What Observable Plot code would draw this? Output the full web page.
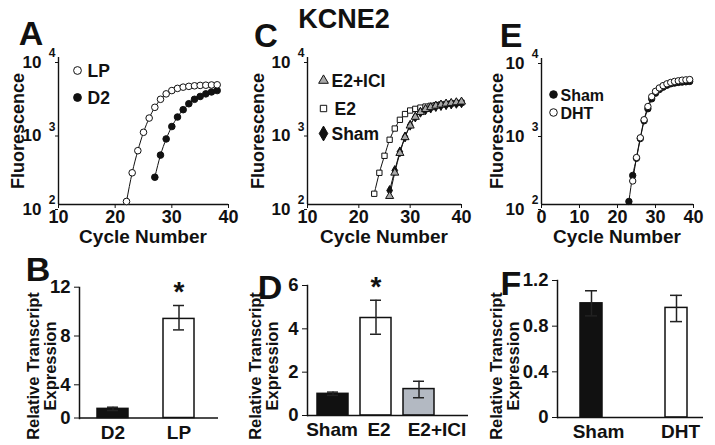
<!DOCTYPE html>
<html><head><meta charset="utf-8">
<script src="https://cdn.jsdelivr.net/npm/d3@7"></script>
<script src="https://cdn.jsdelivr.net/npm/@observablehq/plot@0.6"></script>
<style>
body{margin:0;background:#fff;}
#root{position:relative;width:715px;height:445px;overflow:hidden;font-family:"Liberation Sans",Arial,Helvetica,sans-serif;font-weight:bold;color:#111;}
#root svg{position:absolute;left:0;top:0;background:transparent;overflow:visible;}
.lbl{position:absolute;white-space:nowrap;font-weight:bold;transform:translate(-50%,-50%);line-height:1.05;}
.rot{transform:translate(-50%,-50%) rotate(-90deg);text-align:center;}
</style></head>
<body><div id="root"></div>
<script>
// ---------- DATA ----------
// Panel A: amplification curves
const lpCycles = [22,23,24,25,26,27,28,29,30,31,32,33,34,35,36,37,38];
const lpFluor  = [110,270,540,960,1500,2100,2700,3200,3550,3800,3950,4050,4120,4170,4200,4230,4250];
const d2Cycles = [27,28,29,30,31,32,33,34,35,36,37,38];
const d2Fluor  = [235,470,780,1150,1550,1950,2350,2700,2950,3200,3400,3550];
// Panel C
const e2Cycles = [23,24,25,26,27,28,29,30,31,32,33,34,35,36,37,38,39,40];
const e2Fluor  = [140,270,460,760,1080,1420,1700,1900,2000,2080,2150,2200,2250,2300,2330,2370,2400,2430];
const shamCCycles = [26,27,28,29,30,31,32,33,34,35,36,37,38,39,40];
const shamCFluor  = [155,290,520,830,1200,1550,1800,1950,2050,2150,2220,2280,2330,2380,2420];
const iciCycles = [26,27,28,29,30,31,32,33,34,35,36,37,38,39,40];
const iciFluor  = [130,270,500,820,1180,1550,1800,1980,2100,2200,2280,2350,2400,2450,2500];
// Panel E
const shamECycles = [23,24,25,26,27,28,29,30,31,32,33,34,35,36,37,38,39];
const shamEFluor  = [110,250,430,800,1400,2050,2800,3350,3750,4050,4300,4500,4600,4700,4750,4800,4850];
const dhtCycles = [24,25,26,27,28,29,30,31,32,33,34,35,36,37,38,39];
const dhtFluor  = [210,440,820,1450,2200,3000,3550,3950,4250,4500,4700,4850,4950,5050,5100,5150];
// Log-axis ticks
const yTicksLog = [100,1000,10000];
const yExps = [2,3,4];
// Panel B bars
const bCats = ["D2","LP"];
const bMean = [1.1,9.4];
const bLo   = [0.9,8.5];
const bHi   = [1.3,10.5];
const bSig  = [false,true];
const bTicks = [0,4,8,12];
// Panel D bars
const dCats = ["Sham","E2","E2+ICI"];
const dMean = [1.0,4.5,1.22];
const dLo   = [0.93,3.75,0.82];
const dHi   = [1.08,5.32,1.58];
const dSig  = [false,true,false];
const dTicks = [0,2,4,6];
// Panel F bars
const fCats = ["Sham","DHT"];
const fMean = [1.0,0.96];
const fLo   = [0.89,0.84];
const fHi   = [1.11,1.07];
const fSig  = [false,false];
const fTicks = [0,0.4,0.8,1.2];

// ---------- DRAWING ----------
const root = document.getElementById("root");
const W = 715, H = 445;
const FONT = '"Liberation Sans", Arial, Helvetica, sans-serif';
const INK = "#111";
function margins(l, r, t, b) { return {marginLeft: l, marginRight: W - r, marginTop: t, marginBottom: H - b}; }
function add(el) { root.appendChild(el); }
function label(text, x, y, size, rotated) {
  const d = document.createElement("div");
  d.className = "lbl" + (rotated ? " rot" : "");
  d.style.left = x + "px"; d.style.top = y + "px"; d.style.fontSize = size + "px";
  d.innerHTML = text;
  add(d);
}

function ampPanel(cfg) {
  const marks = [
    Plot.ruleX([cfg.xDomain[0]], {stroke: INK, strokeWidth: 1.4}),
    Plot.ruleY([100], {stroke: INK, strokeWidth: 1.4}),
    Plot.axisY({ticks: yTicksLog, tickFormat: () => "10", tickSize: 3, tickPadding: 14, dy: 5, fontSize: 17, label: null}),
    Plot.text(yExps, {y: e => 10 ** e, text: e => String(e), frameAnchor: "left", dx: -3, dy: -4, textAnchor: "end", fontSize: 12}),
    Plot.axisX({ticks: cfg.xTicks, tickSize: 4, tickPadding: 2, fontSize: 18, label: null})
  ];
  for (const s of cfg.series) {
    const rows = s.cycles.map((c, i) => ({cycle: c, fluor: s.values[i]}));
    marks.push(Plot.line(rows, {x: "cycle", y: "fluor", stroke: INK, strokeWidth: 1, curve: "monotone-x"}));
  }
  for (const s of cfg.series) {
    const rows = s.cycles.map((c, i) => ({cycle: c, fluor: s.values[i]}));
    marks.push(Plot.dot(rows, {x: "cycle", y: "fluor", symbol: s.symbol, r: s.r, fill: s.fill, stroke: INK, strokeWidth: 1}));
  }
  cfg.legend.forEach((L) => {
    const s = cfg.series.find(z => z.name === L.name);
    marks.push(Plot.dot([L.name], {frameAnchor: "top-left", dx: L.dx, dy: L.dy, symbol: s.symbol, r: s.r + (L.grow || 0.6), fill: s.fill, stroke: INK, strokeWidth: 1}));
    marks.push(Plot.text([L.name], {frameAnchor: "top-left", lineAnchor: "middle", dx: L.tx, dy: L.dy + 1, text: d => d, textAnchor: "start", fontSize: cfg.legendSize || 17.5, fontWeight: "bold"}));
  });
  const p = Plot.plot({
    width: W, height: H, ...margins(cfg.l, cfg.r, cfg.t, cfg.b),
    style: {fontFamily: FONT, fontWeight: "bold", fontSize: "16px", color: INK, background: "transparent", overflow: "visible"},
    x: {type: "linear", domain: cfg.xDomain, label: null},
    y: {type: "log", domain: [100, 10000], label: null},
    marks
  });
  add(p);
}

function barPanel(cfg) {
  const rows = cfg.cats.map((c, i) => ({cat: c, mean: cfg.mean[i], lo: cfg.lo[i], hi: cfg.hi[i], sig: cfg.sig[i]}));
  const marks = [
    Plot.barY(rows, {x: "cat", y: "mean", fill: "cat", stroke: INK, strokeWidth: 1.5}),
    Plot.ruleX(rows, {x: "cat", y1: "lo", y2: "hi", stroke: "#222", strokeWidth: 1.5}),
    Plot.tickY(rows, {x: "cat", y: "lo", insetLeft: cfg.cap, insetRight: cfg.cap, stroke: "#222", strokeWidth: 1.5}),
    Plot.tickY(rows, {x: "cat", y: "hi", insetLeft: cfg.cap, insetRight: cfg.cap, stroke: "#222", strokeWidth: 1.5}),
    Plot.text(rows.filter(d => d.sig), {x: "cat", y: "hi", text: () => "*", dy: -13, fontSize: 28, fontWeight: "bold"}),
    Plot.ruleY([0], {stroke: INK, strokeWidth: 1.5}),
    Plot.frame({anchor: "left", stroke: INK, strokeWidth: 1.5}),
    Plot.axisY({ticks: cfg.ticks, tickFormat: cfg.fmt, tickSize: 5, tickPadding: 4, fontSize: 18.5, label: null})
  ];
  cfg.cats.forEach((c, i) => {
    marks.push(Plot.axisX({ticks: [c], tickSize: 0, tickPadding: 7, fontSize: 19, dx: cfg.shift[i], label: null}));
  });
  const p = Plot.plot({
    width: W, height: H, ...margins(cfg.l, cfg.r, cfg.t, cfg.b),
    style: {fontFamily: FONT, fontWeight: "bold", fontSize: "16px", color: INK, background: "transparent", overflow: "visible"},
    x: {type: "band", domain: cfg.cats, paddingInner: cfg.pi, paddingOuter: cfg.po, align: cfg.align, label: null},
    y: {type: "linear", domain: cfg.yDomain, range: cfg.yRange, label: null},
    color: {domain: cfg.cats, range: cfg.fills},
    marks
  });
  add(p);
}

// Panel A
ampPanel({
  l: 58, r: 228, t: 57, b: 204, xDomain: [10, 40], xTicks: [10,20,30,40],
  series: [
    {name: "D2", cycles: d2Cycles, values: d2Fluor, symbol: "circle", r: 3.3, fill: INK},
    {name: "LP", cycles: lpCycles, values: lpFluor, symbol: "circle", r: 3.3, fill: "#fff"}
  ],
  legend: [{name: "LP", dx: 19, dy: 13, tx: 29}, {name: "D2", dx: 19, dy: 40, tx: 29}]
});
// Panel C
ampPanel({
  l: 307, r: 461, t: 57, b: 204, xDomain: [10, 40], xTicks: [10,20,30,40],
  series: [
    {name: "E2", cycles: e2Cycles, values: e2Fluor, symbol: "square", r: 3.0, fill: "#fff"},
    {name: "Sham", cycles: shamCCycles, values: shamCFluor, symbol: "diamond", r: 3.0, fill: INK},
    {name: "E2+ICI", cycles: iciCycles, values: iciFluor, symbol: "triangle", r: 3.0, fill: "#a8a8a8"}
  ],
  legend: [{name: "E2+ICI", dx: 16, dy: 23, tx: 24}, {name: "E2", dx: 16, dy: 51, tx: 27}, {name: "Sham", dx: 16, dy: 76, tx: 24, grow: 1.5}]
});
// Panel E
ampPanel({
  l: 541, r: 693, t: 58, b: 204, xDomain: [0, 40], xTicks: [0,10,20,30,40], legendSize: 16,
  series: [
    {name: "Sham", cycles: shamECycles, values: shamEFluor, symbol: "circle", r: 3.2, fill: INK},
    {name: "DHT", cycles: dhtCycles, values: dhtFluor, symbol: "circle", r: 3.2, fill: "#fff"}
  ],
  legend: [{name: "Sham", dx: 12, dy: 36, tx: 19}, {name: "DHT", dx: 12, dy: 54, tx: 19}]
});
// Panel B
barPanel({
  l: 79, r: 218, t: 287, b: 418, cats: bCats, mean: bMean, lo: bLo, hi: bHi, sig: bSig,
  fills: ["#111", "#fff"], yDomain: [0, 4, 12], yRange: [417.5, 384.3, 286.7], ticks: bTicks, fmt: d => String(d),
  pi: 0.534, po: 0.312, align: 0.434, cap: 10, shift: [0, 0]
});
// Panel D
barPanel({
  l: 307, r: 468, t: 285, b: 415, cats: dCats, mean: dMean, lo: dLo, hi: dHi, sig: dSig,
  fills: ["#111", "#fff", "#b3b9c2"], yDomain: [0, 6], yRange: [415, 285], ticks: dTicks, fmt: d => String(d),
  pi: 0.285, po: 0.484, align: 0.236, cap: 10, shift: [-1, 3, 18]
});
// Panel F
barPanel({
  l: 557, r: 703, t: 280, b: 417, cats: fCats, mean: fMean, lo: fLo, hi: fHi, sig: fSig,
  fills: ["#111", "#fff"], yDomain: [0, 1.2], yRange: [417, 280], ticks: fTicks, fmt: d => d === 0 ? "0" : d.toFixed(1),
  pi: 0.745, po: 0.23, align: 0.58, cap: 5, shift: [7, 4]
});

// ---------- TEXT ----------
label("KCNE2", 344, 19, 27);
label("A", 31, 34, 34); label("C", 266, 36, 33); label("E", 511, 36, 34);
label("B", 38, 270, 34); label("D", 270, 288, 34); label("F", 511, 284, 34);
label("Fluorescence", 18, 131, 18, true);
label("Fluorescence", 258, 131, 18, true);
label("Fluorescence", 497, 131, 18, true);
label("Cycle Number", 143, 237, 19);
label("Cycle Number", 384, 237, 19);
label("Cycle Number", 617, 237, 19);
label("Relative Transcript<br>Expression", 42, 366, 16.5, true);
label("Relative Transcript<br>Expression", 264, 366, 16.5, true);
label("Relative Transcript<br>Expression", 505, 366, 16.5, true);
</script>
</body></html>
